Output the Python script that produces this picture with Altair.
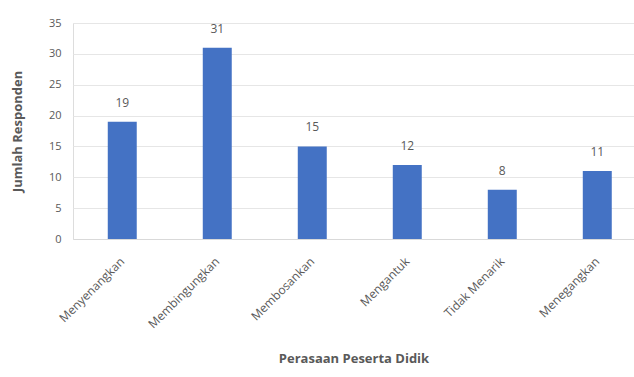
import altair as alt
import pandas as pd

# Survey responses: how students felt about the lesson
categories = ["Menyenangkan", "Membingungkan", "Membosankan", "Mengantuk", "Tidak Menarik", "Menegangkan"]
counts = [19, 31, 15, 12, 8, 11]
y_ticks = [0, 5, 10, 15, 20, 25, 30, 35]

df = pd.DataFrame({"kategori": categories, "jumlah": counts})

FONT = "Open Sans"
GREY = "#595959"

x = alt.X(
    "kategori:N",
    sort=categories,
    title="Perasaan Peserta Didik",
    scale=alt.Scale(paddingInner=0.695, paddingOuter=0.3, align=0.61),
    axis=alt.Axis(
        labelAngle=-45,
        labelAlign="right",
        labelBaseline="middle",
        labelPadding=20,
        labelFontSize=12,
        labelColor=GREY,
        labelFont=FONT,
        labelOverlap=False,
        ticks=False,
        grid=False,
        domain=True,
        domainColor="#d9d9d9",
        titleFont=FONT,
        titleFontSize=13,
        titleFontWeight="bold",
        titleColor=GREY,
        titlePadding=22,
    ),
)

y = alt.Y(
    "jumlah:Q",
    title="Jumlah Responden",
    scale=alt.Scale(domain=[0, 35]),
    axis=alt.Axis(
        values=y_ticks,
        labelFontSize=11,
        labelColor=GREY,
        labelFont=FONT,
        labelPadding=12,
        labelOverlap=False,
        ticks=False,
        domain=False,
        grid=True,
        gridColor="#e6e6e6",
        titleFont=FONT,
        titleFontSize=13,
        titleFontWeight="bold",
        titleColor=GREY,
        titlePadding=24,
    ),
)

base = alt.Chart(df).encode(x=x, y=y)

bars = base.mark_bar(color="#4472C4")
labels = base.mark_text(dy=-19, fontSize=12, color=GREY, font=FONT).encode(text="jumlah:Q")

chart = (
    alt.layer(bars, labels)
    .properties(
        width=561,
        height=216,
        autosize=alt.AutoSizeParams(type="none"),
        padding={"left": 73, "top": 23, "right": 0, "bottom": 138},
    )
    .configure_view(stroke=None)
    .configure(background="white")
)

chart.save("out.html", embed_options={"renderer": "svg", "actions": False})
